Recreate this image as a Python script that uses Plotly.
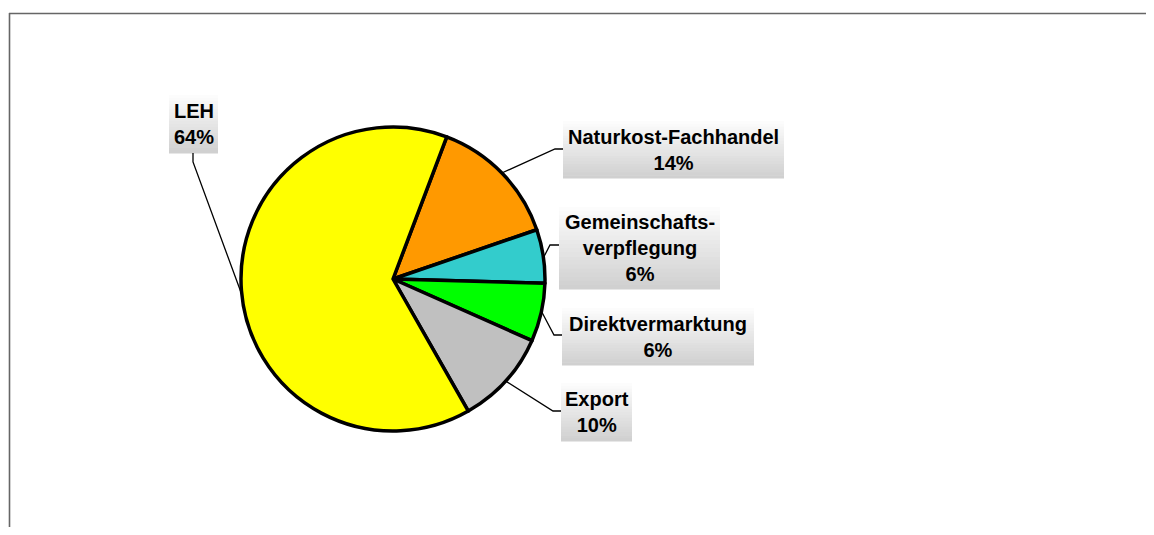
import math
import plotly.graph_objects as go

# ---- data ----
labels = ["Naturkost-Fachhandel", "Gemeinschafts-<br>verpflegung", "Direktvermarktung", "Export", "LEH"]
values = [14.0, 5.7, 6.2, 10.1, 64.0]
colors = ["#FF9900", "#33CCCC", "#00FF00", "#C0C0C0", "#FFFF00"]
start_angle = 20.7  # degrees clockwise from 12 o'clock

# ---- layout constants (page pixels) ----
PAGE_W, PAGE_H = 1154, 535
OFF = 8                       # default body margin of the html page
FW, FH = PAGE_W - OFF, PAGE_H - 2 * OFF
cx, cy, r = 393, 279, 152
# label boxes: (x0, x1, y0, y1), elbow of the leader line, attach point on the box
boxes = [
    (563, 784, 121, 178),
    (559, 720, 207, 289),
    (562, 754, 308, 365),
    (561, 632, 383, 441),
    (169, 218, 95, 153),
]
elbows = [(555, 149), (550, 245), (554, 335), (553, 411), (193, 162)]
attach = [(563, 149), (559, 245), (562, 335), (561, 411), (193, 153)]

Y_TOP = OFF
Y_BOT = OFF + FH

fig = go.Figure()
fig.add_trace(go.Pie(
    labels=[l.replace("<br>", "") for l in labels],
    values=values,
    sort=False,
    direction="clockwise",
    rotation=start_angle,
    marker=dict(colors=colors, line=dict(color="black", width=3.5)),
    textinfo="none",
    hoverinfo="label+percent",
    showlegend=False,
    domain=dict(x=[(cx - r - OFF) / FW, (cx + r - OFF) / FW],
                y=[(Y_BOT - (cy + r)) / FH, (Y_BOT - (cy - r)) / FH]),
))

shapes = []
annotations = []
total = sum(values)
cum = 0.0


def lerp(a, b, t):
    return int(round(a + (b - a) * t))


for i, (lab, v) in enumerate(zip(labels, values)):
    mid = math.radians(start_angle + (cum + v / 2) / total * 360)
    cum += v
    ex = cx + (r + 1) * math.sin(mid)
    ey = cy - (r + 1) * math.cos(mid)
    elx, ely = elbows[i]
    ax, ay = attach[i]
    shapes.append(dict(type="path", xref="x", yref="y",
                       path=f"M {ex:.1f},{ey:.1f} L {elx},{ely} L {ax},{ay}",
                       line=dict(color="black", width=1.3)))
    x0, x1, y0, y1 = boxes[i]
    n = 20
    h = (y1 - y0) / n
    for k in range(n):
        t = k / (n - 1)
        g = lerp(252, 208, t)
        shapes.append(dict(type="rect", xref="x", yref="y", layer="below",
                           x0=x0, x1=x1, y0=y0 + k * h, y1=y0 + (k + 1) * h + 0.6,
                           fillcolor=f"rgb({g},{g},{g})", line=dict(width=0)))
    annotations.append(dict(
        xref="x", yref="y", x=(x0 + x1) / 2, y=(y0 + y1) / 2,
        text=f"<b>{lab}</b><br><b>{round(v)}%</b>",
        showarrow=False, align="center", xanchor="center", yanchor="middle",
        font=dict(family="Liberation Sans, Arial", size=20, color="black"),
    ))

# outer frame (top and left edges visible)
shapes.append(dict(type="line", xref="x", yref="y", x0=9, y0=13.5, x1=PAGE_W + 10, y1=13.5,
                   line=dict(color="#666666", width=1.6), layer="below"))
shapes.append(dict(type="line", xref="x", yref="y", x0=9.5, y0=13, x1=9.5, y1=PAGE_H + 10,
                   line=dict(color="#666666", width=1.6), layer="below"))

fig.update_layout(
    width=FW, height=FH,
    margin=dict(l=0, r=0, t=0, b=0),
    paper_bgcolor="white", plot_bgcolor="white",
    xaxis=dict(range=[OFF, OFF + FW], visible=False, fixedrange=True),
    yaxis=dict(range=[Y_BOT, Y_TOP], visible=False, fixedrange=True),
    shapes=shapes,
    annotations=annotations,
)

fig.write_html("out.html")
